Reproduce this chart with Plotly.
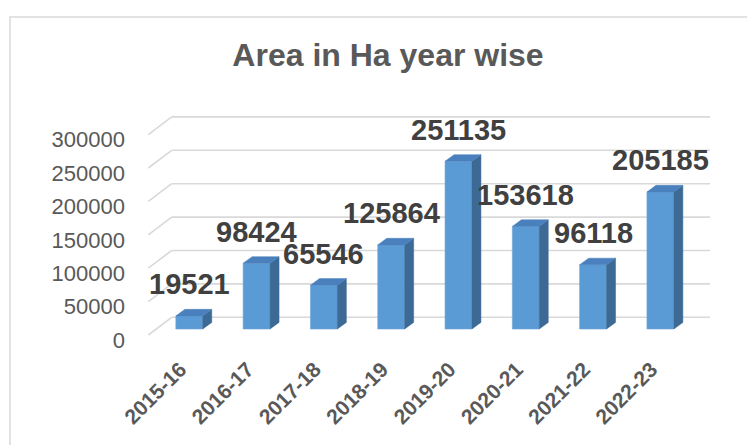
import plotly.graph_objects as go

# data
years = ["2015-16", "2016-17", "2017-18", "2018-19", "2019-20", "2020-21", "2021-22", "2022-23"]
area_ha = [19521, 98424, 65546, 125864, 251135, 153618, 96118, 205185]
y_ticks = [0, 50000, 100000, 150000, 200000, 250000, 300000]

# the page body adds an 8px margin, so reference pixel positions are shifted by it
OFF = 8
W, H = 755, 445
L, R, T = 130 - OFF, 30, 100 - OFF
PLOT_BOTTOM = 346 - OFF
B = H - PLOT_BOTTOM

# geometry of the fake 3d view (pixels -> axis units)
PX_PER_CAT = 67.3
UPP = 50000 / 33.4           # y units per pixel
ZERO_PX = 329 - OFF - T      # bar baseline, px below top of plot area
FIRST_CENTER = 189.3 - OFF
BAR_W = 0.4
DEPTH_X = 9 / PX_PER_CAT     # side/top face depth
DEPTH_Y = 6.6 * UPP
WALL_Y = 11.7 * UPP          # back wall above bar fronts
FRONT_Y = -6.0 * UPP         # floor front edge below bar fronts
WALL_LEFT = (171.7 - 189.3) / PX_PER_CAT
WALL_RIGHT = (710 - 189.3) / PX_PER_CAT
FLOOR_LEFT = (148.3 - 189.3) / PX_PER_CAT

FRONT = "#5B9BD5"
SIDE = "#3D6A95"
TOP = "#4A80BD"
GRID = "#D9D9D9"
TXT = "#595959"

plot_w = W - L - R
plot_h = H - T - B
x0 = -(FIRST_CENTER - L) / PX_PER_CAT
x_range = [x0, x0 + plot_w / PX_PER_CAT]
y_range = [-(plot_h - ZERO_PX) * UPP, ZERO_PX * UPP]

xs = list(range(len(years)))

fig = go.Figure()

fig.add_trace(go.Bar(
    x=xs, y=area_ha, width=BAR_W,
    marker=dict(color=FRONT, line=dict(color="#6FA6DA", width=0.6)),
    hoverinfo="skip",
))

# side and top faces
side_x, side_y, top_x, top_y = [], [], [], []
for i, h in zip(xs, area_ha):
    xl, xr = i - BAR_W / 2, i + BAR_W / 2
    side_x += [xr, xr + DEPTH_X, xr + DEPTH_X, xr, xr, None]
    side_y += [0, DEPTH_Y, h + DEPTH_Y, h, 0, None]
    top_x += [xl, xl + DEPTH_X, xr + DEPTH_X, xr, xl, None]
    top_y += [h, h + DEPTH_Y, h + DEPTH_Y, h, h, None]

fig.add_trace(go.Scatter(x=side_x, y=side_y, mode="lines", fill="toself",
                         fillcolor=SIDE, line=dict(color=SIDE, width=0.5),
                         hoverinfo="skip"))
fig.add_trace(go.Scatter(x=top_x, y=top_y, mode="lines", fill="toself",
                         fillcolor=TOP, line=dict(color=TOP, width=0.5),
                         hoverinfo="skip"))

# gridlines on the back wall + floor diagonals on the left
for v in y_ticks:
    fig.add_shape(type="line", layer="below", xref="x", yref="y",
                  x0=WALL_LEFT, x1=WALL_RIGHT, y0=v + WALL_Y, y1=v + WALL_Y,
                  line=dict(color=GRID, width=1.6))
    fig.add_shape(type="line", layer="below", xref="x", yref="y",
                  x0=FLOOR_LEFT, x1=WALL_LEFT, y0=v + FRONT_Y, y1=v + WALL_Y,
                  line=dict(color=GRID, width=1.6))

# value labels
for i, h in zip(xs, area_ha):
    fig.add_annotation(x=i, y=h + DEPTH_Y, text=f"<b>{h}</b>", showarrow=False,
                       yanchor="bottom", yshift=7,
                       font=dict(family="Liberation Sans", size=29, color="#404040"))

# chart border (clipped by the page on right/bottom)
fig.add_shape(type="rect", xref="paper", yref="paper",
              x0=(10 - OFF - L) / plot_w, x1=1.2,
              y0=-0.8, y1=1 + (T - (17 - OFF)) / plot_h,
              line=dict(color=GRID, width=1.5))

fig.update_layout(
    width=W, height=H,
    margin=dict(l=L, r=R, t=T, b=B),
    paper_bgcolor="white", plot_bgcolor="white",
    showlegend=False,
    title=dict(text="<b>Area in Ha year wise</b>", xref="container", yref="container",
               x=(388 - OFF) / W, xanchor="center", y=1 - (55 - OFF) / H, yanchor="middle",
               font=dict(family="Liberation Sans", size=32, color=TXT)),
    xaxis=dict(range=x_range, tickvals=xs, ticktext=[f"<b>{y}</b>" for y in years],
               tickangle=-45, showgrid=False, zeroline=False, showline=False,
               ticklabelshift=-9, ticklabelstandoff=6,
               tickfont=dict(family="Liberation Sans", size=21, color=TXT)),
    yaxis=dict(range=y_range, tickvals=[v - 11 * UPP for v in y_ticks],
               ticktext=[str(v) for v in y_ticks], showgrid=False, zeroline=False,
               showline=False, ticklabelstandoff=4,
               tickfont=dict(family="Liberation Sans", size=22, color=TXT)),
)

fig.write_html("out.html")
